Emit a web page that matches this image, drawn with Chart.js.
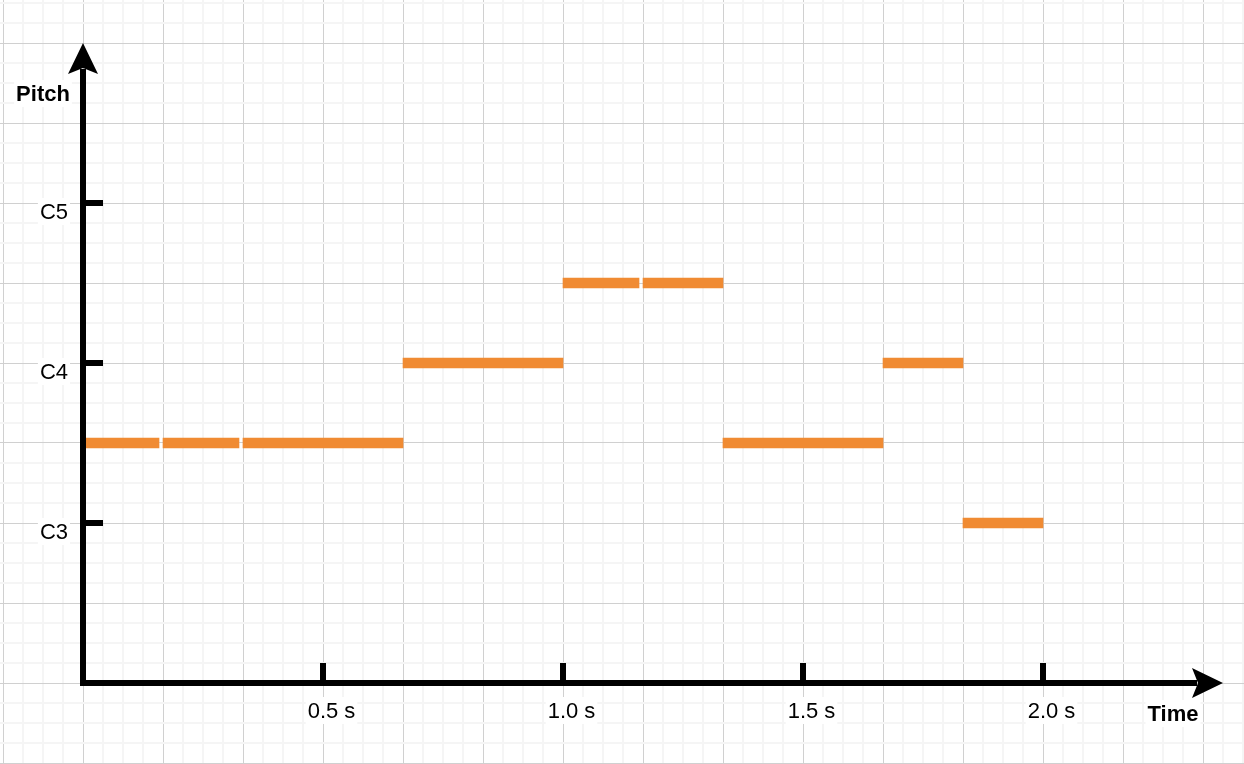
<!DOCTYPE html>
<html>
<head>
<meta charset="utf-8">
<title>Pitch over time</title>
<script src="https://cdn.jsdelivr.net/npm/chart.js@4"></script>
<style>
  html, body { margin: 0; padding: 0; background: #fff; }
  #wrap { position: relative; width: 1244px; height: 764px; }
</style>
</head>
<body>
<div id="wrap"><canvas id="pitchChart"></canvas></div>
<script>
// Notes: time in seconds, pitch as octave number (C3 = 3, C4 = 4 ...)
const noteStart = [0, 0.1667, 0.3333, 0.6667, 1.0, 1.1667, 1.3333, 1.6667, 1.8333];
const noteEnd   = [0.1667, 0.3333, 0.6667, 1.0, 1.1667, 1.3333, 1.6667, 1.8333, 2.0];
const notePitch = [3.5, 3.5, 3.5, 4, 4.5, 4.5, 3.5, 4, 3];

const xTickValues = [0.5, 1.0, 1.5, 2.0];
const xTickLabels = ['0.5 s', '1.0 s', '1.5 s', '2.0 s'];
const yTickValues = [3, 4, 5];
const yTickLabels = ['C3', 'C4', 'C5'];

const xAxisTitle = 'Time';
const yAxisTitle = 'Pitch';

// where the axes cross and where the arrows end
const axisOrigin = { x: 0, y: 2 };
const axisEnd = { x: 2.375, y: 6 };

// visible range of the whole page (grid runs edge to edge)
const X_VIEW = [-0.172917, 2.41875];
const Y_VIEW = [1.49375, 6.26875];

const NOTE_GAP = 1 / 120; // short release before a repeated pitch
const NOTE_COLOR = '#f08b33';
const FONT = '"Liberation Sans", Arial, Helvetica, sans-serif';

const noteData = notePitch.map((p, i) => {
    const repeat = notePitch[i + 1] === p;
    return { x: [noteStart[i], noteEnd[i] - (repeat ? NOTE_GAP : 0)], y: p };
});

// grid ticks: minor every 1/24 s and 1/8 octave, major every 4th
const gridTicks = (from, to, step) => {
    const out = [];
    for (let k = from; k <= to; k++) out.push({ value: k / step, major: k % 4 === 0 });
    return out;
};

const gridOpts = {
    drawTicks: false,
    color: (c) => (c.tick && c.tick.major ? '#d0d0d0' : '#f5f5f5'),
    lineWidth: (c) => (c.tick && c.tick.major ? 1 : 2)
};

const axesPlugin = {
    id: 'axes',
    afterDatasetsDraw(chart) {
        const { ctx, scales: { x, y } } = chart;
        const ox = x.getPixelForValue(axisOrigin.x);
        const oy = y.getPixelForValue(axisOrigin.y);
        const tipX = x.getPixelForValue(axisEnd.x);
        const tipY = y.getPixelForValue(axisEnd.y);

        const line = (x1, y1, x2, y2) => {
            ctx.beginPath();
            ctx.moveTo(x1, y1);
            ctx.lineTo(x2, y2);
            ctx.stroke();
        };
        const arrow = (tx, ty, dx, dy) => {
            const len = 31, half = 15, notch = 25;
            const bx = tx - dx * len, by = ty - dy * len;
            ctx.beginPath();
            ctx.moveTo(tx, ty);
            ctx.lineTo(bx - dy * half, by + dx * half);
            ctx.lineTo(tx - dx * notch, ty - dy * notch);
            ctx.lineTo(bx + dy * half, by - dx * half);
            ctx.closePath();
            ctx.fill();
        };
        const label = (text, cx, base, align, bold) => {
            ctx.font = (bold ? 'bold ' : '') + '22px ' + FONT;
            const w = ctx.measureText(text).width;
            const left = align === 'right' ? cx - w : cx - w / 2;
            ctx.fillStyle = '#fff';
            ctx.fillRect(left - 2, base - 21, w + 4, 27);
            ctx.fillStyle = '#000';
            ctx.textAlign = 'left';
            ctx.textBaseline = 'alphabetic';
            ctx.fillText(text, left, base);
        };

        ctx.save();
        ctx.strokeStyle = '#000';
        ctx.fillStyle = '#000';
        ctx.lineWidth = 6;
        ctx.lineCap = 'butt';

        xTickValues.forEach((v) => {
            const px = x.getPixelForValue(v);
            line(px, oy, px, oy - 20);
        });
        yTickValues.forEach((v) => {
            const py = y.getPixelForValue(v);
            line(ox, py, ox + 20, py);
        });

        line(ox, oy + 3, ox, tipY + 26);
        line(ox - 3, oy, tipX - 26, oy);
        arrow(ox, tipY, 0, -1);
        arrow(tipX, oy, 1, 0);

        xTickValues.forEach((v, i) => {
            label(xTickLabels[i], x.getPixelForValue(v) + 8.5, oy + 35, 'center', false);
        });
        yTickValues.forEach((v, i) => {
            label(yTickLabels[i], ox - 15, y.getPixelForValue(v) + 16, 'right', false);
        });
        label(yAxisTitle, ox - 40, tipY + 58, 'center', true);
        label(xAxisTitle, tipX - 50, oy + 38, 'center', true);
        ctx.restore();
    }
};

const chart = new Chart(document.getElementById('pitchChart'), {
    type: 'bar',
    data: {
        datasets: [{
            label: 'Notes',
            data: noteData,
            backgroundColor: NOTE_COLOR,
            borderWidth: 0,
            barThickness: 10
        }]
    },
    options: {
        indexAxis: 'y',
        responsive: true,
        maintainAspectRatio: false,
        animation: false,
        layout: { padding: 0 },
        plugins: {
            legend: { display: false },
            tooltip: { enabled: false }
        },
        scales: {
            x: {
                type: 'linear',
                min: X_VIEW[0],
                max: X_VIEW[1],
                border: { display: false },
                ticks: { display: false },
                grid: gridOpts,
                afterBuildTicks: (s) => { s.ticks = gridTicks(-4, 58, 24); }
            },
            y: {
                type: 'linear',
                offset: false,
                min: Y_VIEW[0],
                max: Y_VIEW[1],
                border: { display: false },
                ticks: { display: false },
                grid: Object.assign({ offset: false }, gridOpts),
                afterBuildTicks: (s) => { s.ticks = gridTicks(12, 50, 8); }
            }
        }
    },
    plugins: [axesPlugin]
});
</script>
</body>
</html>
